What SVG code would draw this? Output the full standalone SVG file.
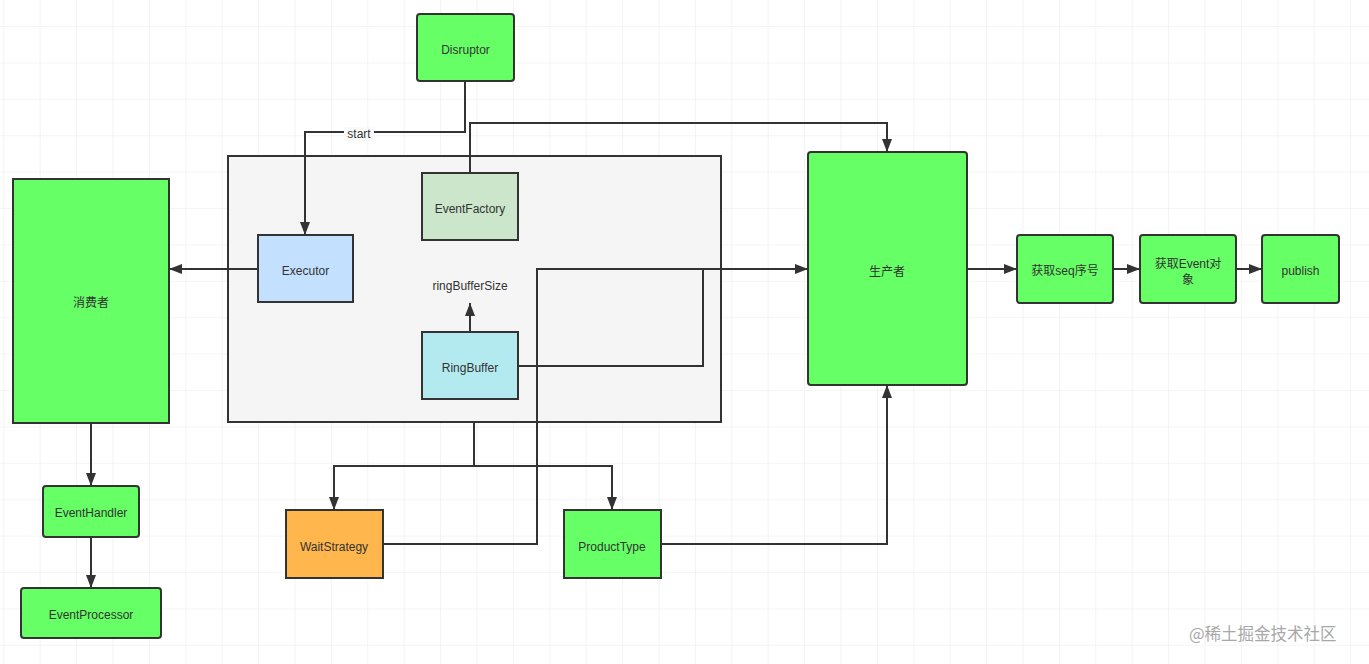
<svg xmlns="http://www.w3.org/2000/svg" width="1369" height="664" viewBox="0 0 1369 664">
<defs>
<pattern id="grid" patternUnits="userSpaceOnUse" x="3.3" y="26" width="36.4" height="36.4">
<path d="M0,0 H36.4 M0,0 V36.4" fill="none" stroke="#ececec" stroke-width="1.2"/>
</pattern>
<marker id="arr" markerUnits="userSpaceOnUse" markerWidth="14" markerHeight="12" refX="13" refY="5.5" orient="auto">
<path d="M0,0.5 L13,5.5 L0,10.5 z" fill="#333"/>
</marker>
<style>
.node{stroke:#333;stroke-width:2}
.green{fill:#66ff66}
.t{font-family:"Liberation Sans","Noto Sans CJK SC",sans-serif;font-size:12px;fill:#333;text-anchor:middle;dominant-baseline:central}
.c{fill:none;stroke:#333;stroke-width:2}
.a{marker-end:url(#arr)}
</style>
</defs>
<rect width="1369" height="664" fill="#fff"/>
<rect width="1369" height="664" fill="url(#grid)"/>

<g id="container">
<rect x="228" y="156" width="493" height="266" fill="#f5f5f5" stroke="#333" stroke-width="2"/>
</g>

<g id="connectors">
<path class="c a" d="M465,81 V132 H305 V235"/>
<rect x="344" y="127" width="30" height="14" fill="#fafafa"/>
<text class="t" x="359" y="134">start</text>
<path class="c a" d="M470,173 V123 H887 V152"/>
<path class="c a" d="M258,269 H169"/>
<path class="c a" d="M470,332 V303"/>
<path class="c a" d="M518,366 H703 V269 H808"/>
<path class="c" d="M383,544 H537 V269 H703"/>
<path class="c a" d="M474,422 V466 H334 V510"/>
<path class="c a" d="M474,466 H612 V510"/>
<path class="c a" d="M661,544 H887 V385"/>
<path class="c a" d="M967,269 H1017"/>
<path class="c a" d="M1113,269 H1140"/>
<path class="c a" d="M1236,269 H1262"/>
<path class="c a" d="M91,423 V486"/>
<path class="c a" d="M91,537 V588"/>
</g>

<g id="disruptor">
<rect class="node green" x="417" y="14" width="97" height="67" rx="3"/>
<text class="t" x="465.5" y="50">Disruptor</text>
</g>
<g id="eventfactory">
<rect class="node" x="422" y="173" width="96" height="67" fill="#cbe6cb"/>
<text class="t" x="470" y="209">EventFactory</text>
</g>
<g id="executor">
<rect class="node" x="258" y="235" width="95" height="67" fill="#c4e0ff"/>
<text class="t" x="305.5" y="271">Executor</text>
</g>
<g id="ringbuffersize">
<text class="t" x="470" y="286">ringBufferSize</text>
</g>
<g id="ringbuffer">
<rect class="node" x="422" y="332" width="96" height="67" fill="#b3eaf0"/>
<text class="t" x="470" y="368">RingBuffer</text>
</g>
<g id="consumer">
<rect class="node green" x="13" y="179" width="156" height="244"/>
<text class="t" x="91" y="303">消费者</text>
</g>
<g id="eventhandler">
<rect class="node green" x="43" y="486" width="96" height="51" rx="3"/>
<text class="t" x="91" y="513">EventHandler</text>
</g>
<g id="eventprocessor">
<rect class="node green" x="21" y="588" width="140" height="50" rx="3"/>
<text class="t" x="91" y="615">EventProcessor</text>
</g>
<g id="producer">
<rect class="node green" x="808" y="152" width="159" height="233" rx="3"/>
<text class="t" x="887" y="272">生产者</text>
</g>
<g id="waitstrategy">
<rect class="node" x="286" y="510" width="97" height="68" fill="#ffb74d"/>
<text class="t" x="334" y="547">WaitStrategy</text>
</g>
<g id="producttype">
<rect class="node green" x="564" y="510" width="97" height="68"/>
<text class="t" x="612" y="547">ProductType</text>
</g>
<g id="getseq">
<rect class="node green" x="1017" y="235" width="96" height="68" rx="3"/>
<text class="t" x="1065" y="271">获取seq序号</text>
</g>
<g id="getevent">
<rect class="node green" x="1140" y="235" width="96" height="68" rx="3"/>
<text class="t" x="1188" y="264">获取Event对</text>
<text class="t" x="1188" y="280">象</text>
</g>
<g id="publish">
<rect class="node green" x="1262" y="235" width="77" height="68" rx="3"/>
<text class="t" x="1300.5" y="271">publish</text>
</g>
<text x="1189" y="640" font-family="'Noto Sans CJK SC',sans-serif" font-size="16.5" fill="#a8a8a8">@稀土掘金技术社区</text>
</svg>
